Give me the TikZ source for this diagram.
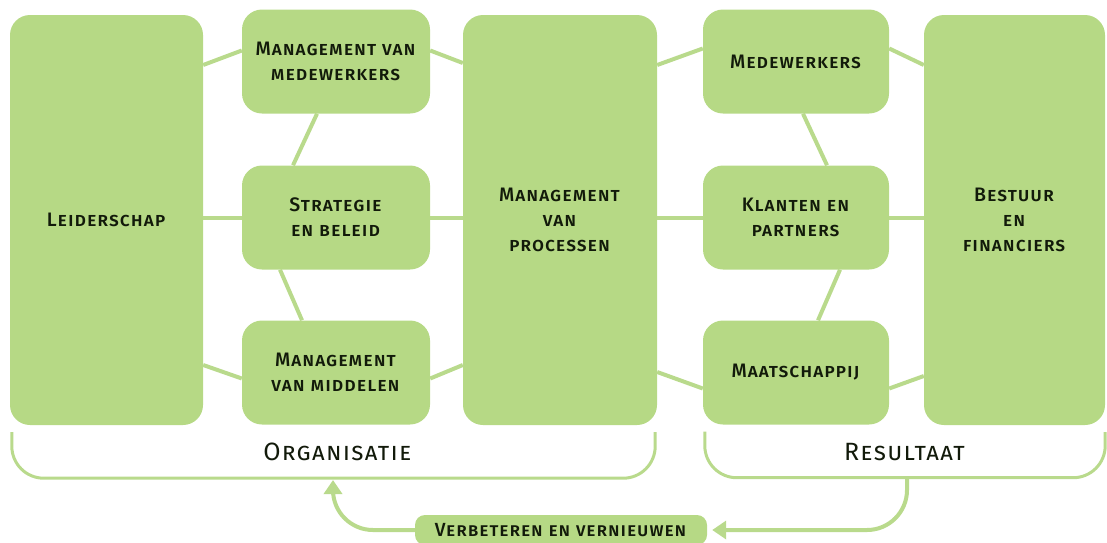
\documentclass[tikz,border=0pt]{standalone}
\usepackage{fontspec}
\setmainfont{Fira Sans}[LetterSpace=5, UprightFont=* Medium]
\newfontfamily\labelfont{Fira Sans}[LetterSpace=5]
\usepackage{xcolor}
\usetikzlibrary{arrows.meta}

\definecolor{boxgreen}{RGB}{182,217,133}
\definecolor{linegreen}{RGB}{185,218,140}
\definecolor{txtdark}{RGB}{18,26,10}

\begin{document}
\begin{tikzpicture}[
    x=1pt, y=-1pt,
    box/.style={fill=boxgreen, rounded corners=20pt, text=txtdark, align=center,
        inner sep=0pt, font=\fontsize{19.5}{25}\selectfont},
    tallbox/.style={box, minimum height=410pt},
    smallbox/.style={box, minimum width=188pt, minimum height=104pt},
    link/.style={draw=linegreen, line width=4pt},
    bracket/.style={draw=linegreen, line width=3pt, rounded corners=32pt},
    loop/.style={draw=linegreen, line width=4pt, rounded corners=40pt,
        -{Triangle[width=18pt,length=14pt]}},
    label/.style={text=txtdark, font=\labelfont\fontsize{25}{28}\selectfont}
]
\useasboundingbox (0,0) rectangle (1107,542);

% organisatie
\node [tallbox, minimum width=193pt] (leider) at (106.5,220) {\textsc{Leiderschap}};
\node [smallbox] (mmw) at (336,61.5) {\textsc{Management van}\\\textsc{medewerkers}};
\node [smallbox] (strat) at (336,217.5) {\textsc{Strategie}\\\textsc{en beleid}};
\node [smallbox] (midd) at (336,372.5) {\textsc{Management}\\\textsc{van middelen}};
\node [tallbox, minimum width=194pt] (proc) at (560,220) {\textsc{Management}\\\textsc{van}\\\textsc{processen}};

% resultaat
\node [smallbox, minimum width=186pt] (medw) at (796,61.5) {\textsc{Medewerkers}};
\node [smallbox, minimum width=186pt] (klant) at (796,217.5) {\textsc{Klanten en}\\\textsc{partners}};
\node [smallbox, minimum width=186pt] (maat) at (796,372.5) {\textsc{Maatschappij}};
\node [tallbox, minimum width=181pt] (best) at (1014.5,220) {\textsc{Bestuur}\\\textsc{en}\\\textsc{financiers}};

% verbindingen
\begin{scope}[on background layer/.try]
\draw [link] ([yshift=155pt]leider.east) -- ([yshift=11pt]mmw.west);
\draw [link] ([yshift=11pt]mmw.east) -- ([yshift=157pt]proc.west);
\draw [link] ([xshift=-19pt]mmw.south) -- ([xshift=-43pt]strat.north);
\draw [link] (leider.east |- strat.west) -- (strat.west);
\draw [link] (strat.east) -- (proc.west |- strat.east);
\draw [link] ([xshift=-56pt]strat.south) -- ([xshift=-34pt]midd.north);
\draw [link] ([yshift=-145pt]leider.east) -- ([yshift=-6pt]midd.west);
\draw [link] ([yshift=-6pt]midd.east) -- ([yshift=-145pt]proc.west);
\draw [link] ([yshift=155pt]proc.east) -- ([yshift=13pt]medw.west);
\draw [link] ([yshift=13pt]medw.east) -- ([yshift=155pt]best.west);
\draw [link] ([xshift=7pt]medw.south) -- ([xshift=31pt]klant.north);
\draw [link] (proc.east |- klant.west) -- (klant.west);
\draw [link] (klant.east) -- (best.west |- klant.east);
\draw [link] ([xshift=44pt]klant.south) -- ([xshift=22pt]maat.north);
\draw [link] ([yshift=-152pt]proc.east) -- ([yshift=-16pt]maat.west);
\draw [link] ([yshift=-16pt]maat.east) -- ([yshift=-156pt]best.west);
\end{scope}

% haken
\draw [bracket] ([shift={(2pt,-7pt)}]leider.south west) -- ++(0,46) -| ([shift={(-2pt,-7pt)}]proc.south east);
\draw [bracket] ([shift={(2pt,-7pt)}]medw.south west |- maat.south) -- ++(0,46) -| ([shift={(0pt,-7pt)}]best.south east);
\node [label] (org) at (338,452) {\textsc{Organisatie}};
\node [label] (res) at (905,452) {\textsc{Resultaat}};

% terugkoppeling
\node [box, rounded corners=10pt, minimum width=292pt, minimum height=30pt,
    font=\fontsize{19}{20}\selectfont] (verb) at (561,530) {\textsc{Verbeteren en vernieuwen}};
\coordinate (resbot) at (907,478);
\coordinate (orgbot) at (333,480);
\draw [loop] (resbot) |- ([xshift=5pt]verb.east);
\draw [loop] (verb.west) -| (orgbot);
\end{tikzpicture}
\end{document}
